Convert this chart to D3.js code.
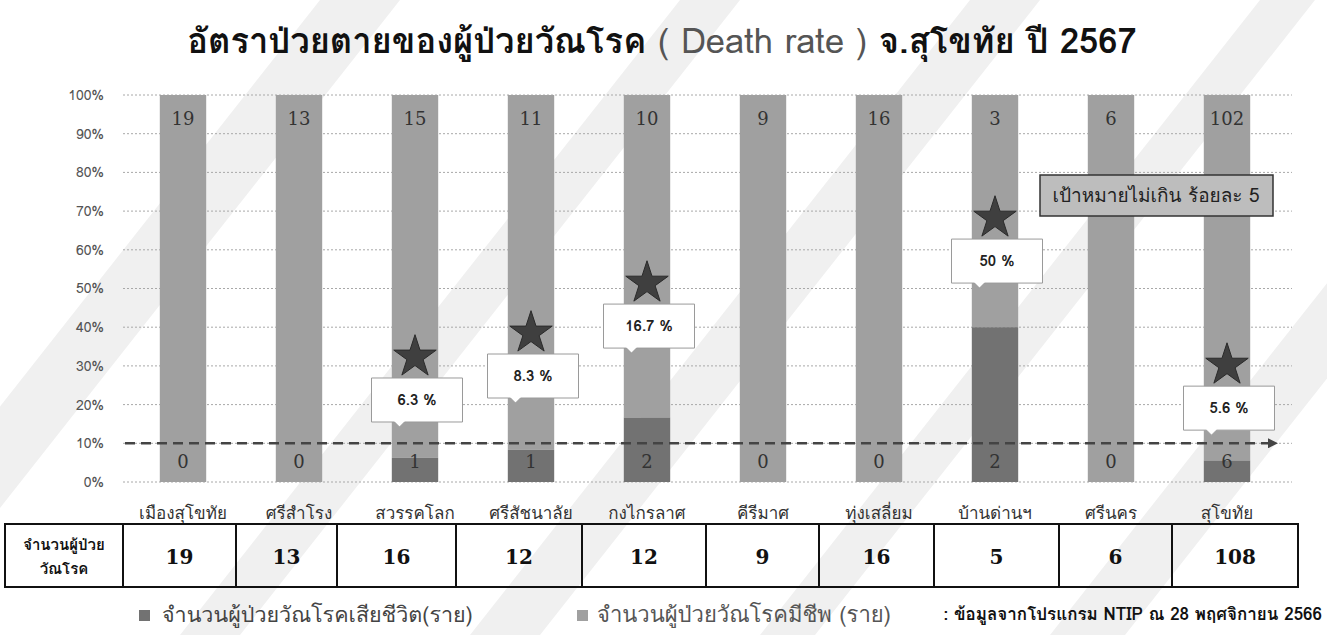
<!DOCTYPE html>
<html><head><meta charset="utf-8">
<script src="https://cdn.jsdelivr.net/npm/d3@7"></script>
<style>
html,body{margin:0;padding:0;background:#fff;}
svg{display:block;}
text{font-family:"Garuda","Loma","Tahoma","Noto Sans Thai","Leelawadee UI","Noto Sans",sans-serif;}
</style></head>
<body>
<svg id="chart" width="1327" height="635"></svg>
<script>
// ---- data ----
const categories = ["เมืองสุโขทัย","ศรีสำโรง","สวรรคโลก","ศรีสัชนาลัย","กงไกรลาศ","คีรีมาศ","ทุ่งเสลี่ยม","บ้านด่านฯ","ศรีนคร","สุโขทัย"];
const deadValues  = [0,0,1,1,2,0,0,2,0,6];
const aliveValues = [19,13,15,11,10,9,16,3,6,102];
const totalValues = [19,13,16,12,12,9,16,5,6,108];
const yTicks = [0,0.1,0.2,0.3,0.4,0.5,0.6,0.7,0.8,0.9,1.0];
const rateCategories = ["สวรรคโลก","ศรีสัชนาลัย","กงไกรลาศ","บ้านด่านฯ","สุโขทัย"];
const rateLabels = ["6.3 %","8.3 %","16.7 %","50 %","5.6 %"];
const starLevels = [0.323,0.385,0.514,0.682,0.302];
const targetLine = 0.10;
const targetText = "เป้าหมายไม่เกิน ร้อยละ 5";
const titleMain1 = "อัตราป่วยตายของผู้ป่วยวัณโรค";
const titleMid = " ( Death rate ) ";
const titleMain2 = " จ.สุโขทัย ปี 2567";
const tableHeader = ["จำนวนผู้ป่วย","วัณโรค"];
const legendDead = "จำนวนผู้ป่วยวัณโรคเสียชีวิต(ราย)";
const legendAlive = "จำนวนผู้ป่วยวัณโรคมีชีพ (ราย)";
const sourceNote = ": ข้อมูลจากโปรแกรม NTIP ณ 28 พฤศจิกายน 2566";

// ---- layout ----
const svg = d3.select("#chart");
const W = 1327, H = 635;
const colAlive = "#a0a0a0", colDead = "#727272";
const tableEdges = [5,123,236,337,456,582,706,819,934,1059,1172,1298];

// background decorative diagonal bands
const bg = svg.append("g");
[[-180,80],[180,60],[470,70],[760,55],[1050,75],[1340,60]].forEach(([x0,w])=>{
  bg.append("polygon")
    .attr("points", `${x0},${H} ${x0+w},${H} ${x0+w+500},0 ${x0+500},0`)
    .attr("fill","#f0f0f0");
});

const x = d3.scaleBand().domain(categories).range([125,1285]).paddingInner(0.6).paddingOuter(0.3);
const y = d3.scaleLinear().domain([0,1]).range([482,95]);

// gridlines
svg.append("g").selectAll("line").data(yTicks).join("line")
  .attr("x1",123).attr("x2",1292)
  .attr("y1",d=>y(d)).attr("y2",d=>y(d))
  .attr("stroke","#a8a8a8").attr("stroke-width",1).attr("stroke-dasharray","2,2");

// y axis labels
const yAxis = d3.axisLeft(y).tickValues(yTicks).tickFormat(d3.format(".0%")).tickSize(0).tickPadding(0);
const ya = svg.append("g").attr("transform","translate(104,0)").call(yAxis);
ya.select(".domain").remove();
ya.selectAll("text").attr("font-size",14).attr("fill","#555").attr("font-family","'DejaVu Sans', sans-serif");

// stacked 100% bars
const rows = categories.map((c,i)=>({cat:c, dead:deadValues[i], alive:aliveValues[i], total:deadValues[i]+aliveValues[i]}));
const bars = svg.append("g");
bars.selectAll("rect.alive").data(rows).join("rect").attr("class","alive")
  .attr("x",d=>x(d.cat)).attr("width",x.bandwidth())
  .attr("y",y(1)).attr("height",d=>y(d.dead/d.total)-y(1))
  .attr("fill",colAlive);
bars.selectAll("rect.dead").data(rows).join("rect").attr("class","dead")
  .attr("x",d=>x(d.cat)).attr("width",x.bandwidth())
  .attr("y",d=>y(d.dead/d.total)).attr("height",d=>y(0)-y(d.dead/d.total))
  .attr("fill",colDead);

// value labels
const serif = "'DejaVu Serif','Liberation Serif',serif";
bars.selectAll("text.alive").data(rows).join("text")
  .attr("x",d=>x(d.cat)+x.bandwidth()/2).attr("y",y(1)+30)
  .attr("text-anchor","middle").attr("font-size",18).attr("fill","#333")
  .style("font-family",serif).text(d=>d.alive);
bars.selectAll("text.dead").data(rows).join("text")
  .attr("x",d=>x(d.cat)+x.bandwidth()/2).attr("y",y(0)-14)
  .attr("text-anchor","middle").attr("font-size",18).attr("fill","#333")
  .style("font-family",serif).text(d=>d.dead);

// target dashed line with arrow
svg.append("defs").append("marker").attr("id","arr").attr("viewBox","0 0 10 10")
  .attr("refX",2).attr("refY",5).attr("markerWidth",4).attr("markerHeight",4).attr("orient","auto")
  .append("path").attr("d","M0,0L10,5L0,10Z").attr("fill","#444");
svg.append("line").attr("x1",125).attr("x2",1270)
  .attr("y1",y(targetLine)).attr("y2",y(targetLine))
  .attr("stroke","#444").attr("stroke-width",2.5).attr("stroke-dasharray","10,6")
  .attr("marker-end","url(#arr)");

// category labels
svg.append("g").selectAll("text").data(categories).join("text")
  .attr("x",d=>x(d)+x.bandwidth()/2).attr("y",519)
  .attr("text-anchor","middle").attr("font-size",17).attr("fill","#333").text(d=>d);

// stars + callouts
const ann = svg.append("g");
rateCategories.forEach((c,i)=>{
  const cx = x(c)+x.bandwidth()/2;
  const sy = y(starLevels[i]);
  ann.append("path").attr("d",d3.symbol(d3.symbolStar).size(560)())
    .attr("transform",`translate(${cx},${sy})`)
    .attr("fill","#3f3f3f").attr("stroke","#2a2a2a").attr("stroke-width",1);
  const bw=91, bh=44, bx=cx+2-bw/2, by=sy+21;
  const px = bx+28;
  ann.append("path")
    .attr("d",`M${bx},${by}H${bx+bw}V${by+bh}H${px+5}L${px},${by+bh+5}L${px-5},${by+bh}H${bx}Z`)
    .attr("fill","#fff").attr("stroke","#9a9a9a").attr("stroke-width",1);
  ann.append("text").attr("x",bx+bw/2).attr("y",by+bh/2+5)
    .attr("text-anchor","middle").attr("font-size",15).attr("font-weight","bold").attr("fill","#222")
    .text(rateLabels[i]);
});

// target box
svg.append("rect").attr("x",1040).attr("y",175).attr("width",233).attr("height",41)
  .attr("fill","#bdbdbd").attr("stroke","#333").attr("stroke-width",1.5);
svg.append("text").attr("x",1156).attr("y",202).attr("text-anchor","middle")
  .attr("font-size",19).attr("fill","#222").text(targetText);

// title
const t = svg.append("text").attr("x",662).attr("y",53).attr("text-anchor","middle").attr("font-size",34.5);
t.append("tspan").attr("font-weight","bold").attr("fill","#111").text(titleMain1);
t.append("tspan").attr("fill","#555").text(titleMid);
t.append("tspan").attr("font-weight","bold").attr("fill","#111").text(titleMain2);

// table
const tbl = svg.append("g");
const ty0 = 524, ty1 = 587;
tbl.append("rect").attr("x",tableEdges[0]).attr("y",ty0)
  .attr("width",tableEdges[tableEdges.length-1]-tableEdges[0]).attr("height",ty1-ty0)
  .attr("fill","none").attr("stroke","#111").attr("stroke-width",2);
tbl.selectAll("line.sep").data(tableEdges.slice(1,-1)).join("line")
  .attr("x1",d=>d).attr("x2",d=>d).attr("y1",ty0).attr("y2",ty1)
  .attr("stroke","#111").attr("stroke-width",2);
tbl.selectAll("text.hd").data(tableHeader).join("text")
  .attr("x",(tableEdges[0]+tableEdges[1])/2).attr("y",(d,i)=>ty0+26+i*24).attr("text-anchor","middle")
  .attr("font-size",15).attr("font-weight","bold").attr("fill","#111").text(d=>d);
tbl.selectAll("text.val").data(totalValues).join("text")
  .attr("x",(d,i)=>(tableEdges[i+1]+tableEdges[i+2])/2).attr("y",(ty0+ty1)/2+8).attr("text-anchor","middle")
  .attr("font-size",20).attr("font-weight","bold").attr("fill","#111")
  .style("font-family",serif).text(d=>d);

// legend
const lg = svg.append("g");
lg.append("rect").attr("x",139).attr("y",610).attr("width",11).attr("height",11).attr("fill",colDead);
lg.append("text").attr("x",162).attr("y",622).attr("font-size",21.5).attr("fill","#444").text(legendDead);
lg.append("rect").attr("x",577).attr("y",610).attr("width",11).attr("height",11).attr("fill",colAlive);
lg.append("text").attr("x",597).attr("y",622).attr("font-size",22).attr("fill","#555").text(legendAlive);
lg.append("text").attr("x",1322).attr("y",620).attr("text-anchor","end").attr("font-size",17)
  .attr("font-weight","bold").attr("fill","#111").text(sourceNote);
</script>
</body></html>
